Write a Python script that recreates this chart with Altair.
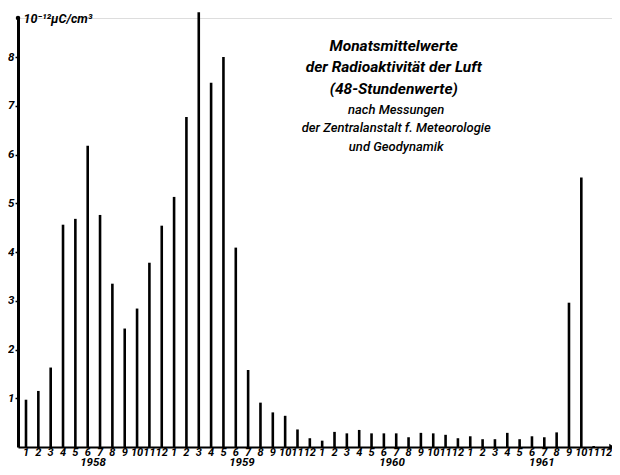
import altair as alt
import pandas as pd

# ---- data (10^-12 µC/cm³, monthly means) ----
years = [1958, 1959, 1960, 1961]
months = list(range(1, 13))
v1958 = [0.97, 1.15, 1.63, 4.56, 4.68, 6.18, 4.76, 3.35, 2.43, 2.84, 3.78, 4.54]
v1959 = [5.13, 6.77, 8.92, 7.47, 8.00, 4.09, 1.58, 0.91, 0.71, 0.64, 0.36, 0.18]
v1960 = [0.13, 0.31, 0.28, 0.35, 0.28, 0.28, 0.28, 0.20, 0.29, 0.28, 0.25, 0.18]
v1961 = [0.22, 0.16, 0.16, 0.29, 0.16, 0.22, 0.20, 0.30, 2.96, 5.53, 0.02, 0.00]

y_ticks = [1, 2, 3, 4, 5, 6, 7, 8]
year_label_pos = [5.43, 17.5, 29.66, 41.8]

title_lines = ["Monatsmittelwerte", "der Radioaktivität der Luft", "(48-Stundenwerte)"]
sub_lines = ["nach Messungen", "der Zentralanstalt f. Meteorologie", "und Geodynamik"]
unit_label = "10⁻¹²µC/cm³"

values = v1958 + v1959 + v1960 + v1961
df = pd.DataFrame({
    "idx": list(range(48)),
    "year": [y for y in years for _ in months],
    "month": [m for _ in years for m in months],
    "value": values,
})

FONT = "Roboto"
xscale = alt.Scale(domain=[-0.648, 47.486], nice=False, zero=False, padding=0)
yscale = alt.Scale(domain=[0, 8.8], nice=False, zero=True, padding=0)

bars = alt.Chart(df).mark_bar(size=2.6, color="black").encode(
    x=alt.X("idx:Q", scale=xscale,
            axis=alt.Axis(values=list(range(48)), labels=False, title=None, ticks=False,
                          domainWidth=2.2, domainColor="black", grid=False)),
    y=alt.Y("value:Q", scale=yscale,
            axis=alt.Axis(values=y_ticks, title=None, tickSize=3, tickWidth=1.5,
                          tickColor="black", labelPadding=1, domainWidth=3,
                          domainColor="black", labelFont=FONT, labelFontSize=11.5,
                          labelFontStyle="italic", labelFontWeight="bold",
                          labelColor="black", grid=False)),
)

month_text = alt.Chart(df).mark_text(
    font=FONT, fontSize=11, fontStyle="italic", fontWeight="bold", color="black",
    baseline="alphabetic", align="center"
).encode(x=alt.X("idx:Q", scale=xscale), y=alt.value(438), text="month:N")

year_df = pd.DataFrame({"pos": year_label_pos, "label": [str(y) for y in years]})
year_text = alt.Chart(year_df).mark_text(
    font=FONT, fontSize=11.5, fontStyle="italic", fontWeight="bold", color="black",
    baseline="alphabetic", align="center"
).encode(x=alt.X("pos:Q", scale=xscale), y=alt.value(447.5), text="label:N")

title_df = pd.DataFrame({"x": [29.8], "y": [8.37], "t": [title_lines]})
title = alt.Chart(title_df).mark_text(
    font=FONT, fontSize=15.5, fontStyle="italic", fontWeight="bold", color="black",
    baseline="top", align="center", lineHeight=21.5
).encode(x=alt.X("x:Q", scale=xscale), y=alt.Y("y:Q", scale=yscale), text="t")

sub_df = pd.DataFrame({"x": [30.0], "y": [7.04], "t": [sub_lines]})
sub = alt.Chart(sub_df).mark_text(
    font=FONT, fontSize=13, fontStyle="italic", fontWeight=500, color="black",
    baseline="top", align="center", lineHeight=18.5
).encode(x=alt.X("x:Q", scale=xscale), y=alt.Y("y:Q", scale=yscale), text="t")

unit_df = pd.DataFrame({"x": [-0.2], "y": [8.78], "t": [unit_label]})
unit = alt.Chart(unit_df).mark_text(
    font=FONT, fontSize=12.5, fontStyle="italic", fontWeight="bold", color="black",
    baseline="middle", align="left"
).encode(x=alt.X("x:Q", scale=xscale), y=alt.Y("y:Q", scale=yscale), text="t")

arrow_df = pd.DataFrame({"x": [47.486], "y": [0.0]})
arrow = alt.Chart(arrow_df).mark_point(
    shape="triangle-right", filled=True, color="black", size=40, opacity=1
).encode(x=alt.X("x:Q", scale=xscale), y=alt.Y("y:Q", scale=yscale))

top_df = pd.DataFrame({"x": [-0.648], "y": [8.8]})
top = alt.Chart(top_df).mark_point(
    shape="circle", filled=True, color="black", size=20, opacity=1
).encode(x=alt.X("x:Q", scale=xscale), y=alt.Y("y:Q", scale=yscale))

chart = alt.layer(bars, month_text, year_text, title, sub, unit, arrow, top).properties(
    width=594, height=429, autosize="none",
    padding={"left": 10, "top": 10, "right": 0, "bottom": 20},
).configure_view(stroke=None).configure(background="white")

chart.save("out.html", embed_options={"renderer": "svg", "actions": False})
